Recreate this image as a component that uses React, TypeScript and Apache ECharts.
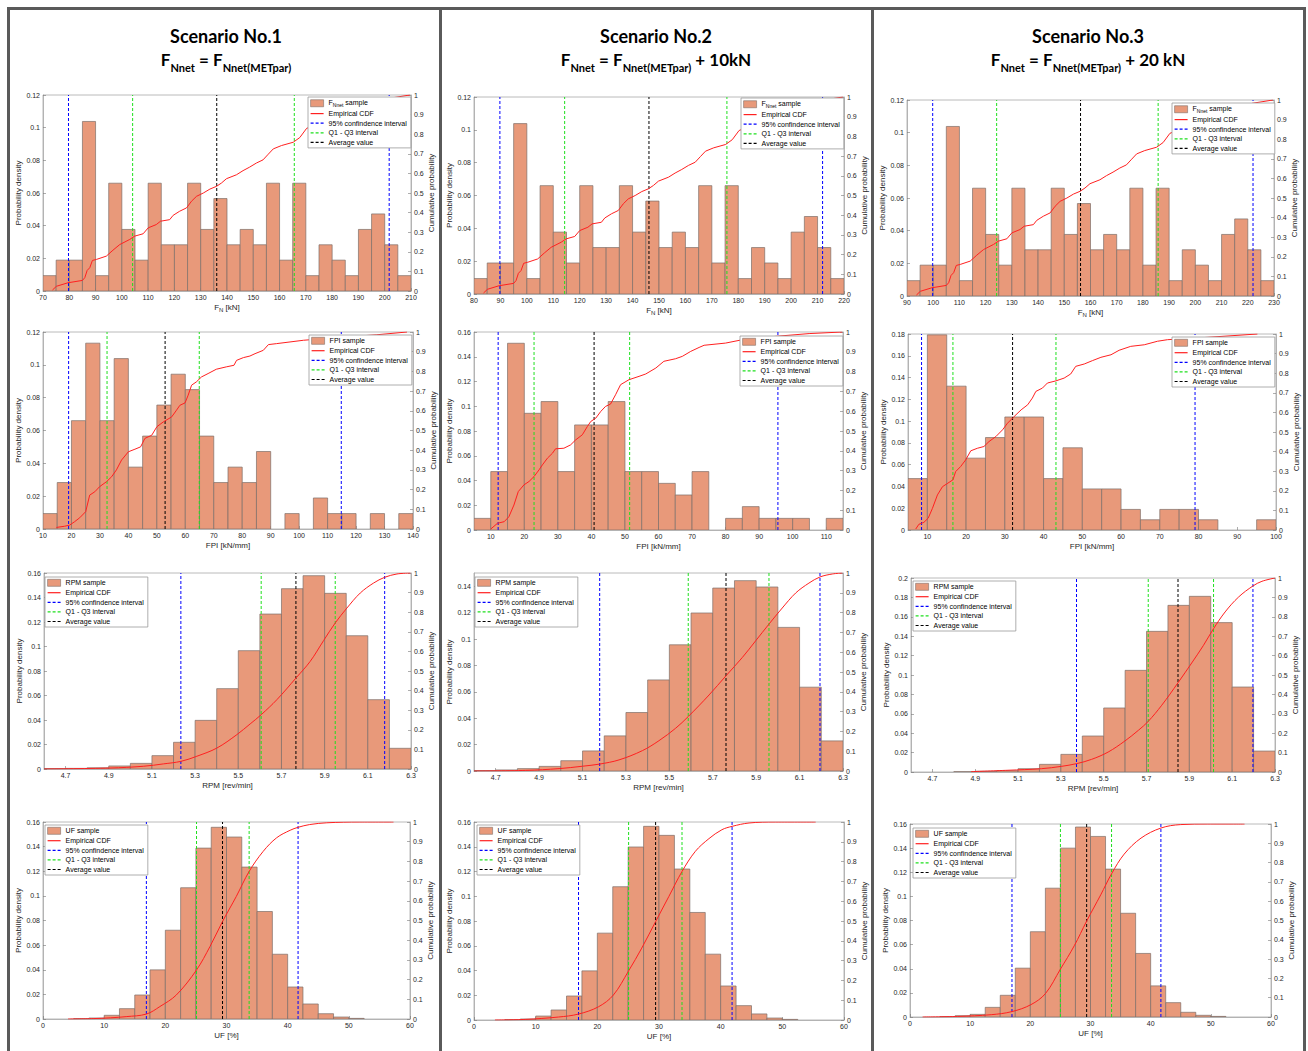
import React, { useEffect, useRef } from "react";
import * as echarts from "echarts";

// ---------------- DATA ----------------
// Row 1: F_N histograms (probability per bin), CDF, interval lines
const fnEdges1 = [70, 75, 80, 85, 90, 95, 100, 105, 110, 115, 120, 125, 130, 135, 140, 145, 150, 155, 160, 165, 170, 175, 180, 185, 190, 195, 200, 205, 210];
const fnEdges2 = [80, 85, 90, 95, 100, 105, 110, 115, 120, 125, 130, 135, 140, 145, 150, 155, 160, 165, 170, 175, 180, 185, 190, 195, 200, 205, 210, 215, 220];
const fnEdges3 = [90, 95, 100, 105, 110, 115, 120, 125, 130, 135, 140, 145, 150, 155, 160, 165, 170, 175, 180, 185, 190, 195, 200, 205, 210, 215, 220, 225, 230];
const fnDensity1 = [0.0094, 0.0189, 0.0189, 0.1038, 0.0094, 0.066, 0.0377, 0.0189, 0.066, 0.0283, 0.0283, 0.066, 0.0377, 0.0566, 0.0283, 0.0377, 0.0283, 0.066, 0.0189, 0.066, 0.0094, 0.0283, 0.0189, 0.0094, 0.0377, 0.0472, 0.0283, 0.0094];
const fnDensity2 = [0.0094, 0.0189, 0.0189, 0.1038, 0.0094, 0.066, 0.0377, 0.0189, 0.066, 0.0283, 0.0283, 0.066, 0.0377, 0.0566, 0.0283, 0.0377, 0.0283, 0.066, 0.0189, 0.066, 0.0094, 0.0283, 0.0189, 0.0094, 0.0377, 0.0472, 0.0283, 0.0094];
const fnDensity3 = [0.0094, 0.0189, 0.0189, 0.1038, 0.0094, 0.066, 0.0377, 0.0189, 0.066, 0.0283, 0.0283, 0.066, 0.0377, 0.0566, 0.0283, 0.0377, 0.0283, 0.066, 0.0189, 0.066, 0.0094, 0.0283, 0.0189, 0.0094, 0.0377, 0.0472, 0.0283, 0.0094];
const fnCdf1 = [[73.6, 0.005], [75.1, 0.024], [79.5, 0.042], [85, 0.054], [85.9, 0.068], [86.8, 0.105], [87.8, 0.119], [88.8, 0.156], [90.3, 0.161], [94.1, 0.178], [96.6, 0.208], [99.2, 0.237], [103, 0.263], [104.9, 0.28], [108.1, 0.292], [110, 0.322], [113.1, 0.339], [114.7, 0.356], [118.2, 0.364], [119.5, 0.386], [122, 0.407], [124.6, 0.424], [126.5, 0.458], [128.4, 0.483], [131, 0.5], [133.5, 0.52], [136, 0.534], [137.9, 0.551], [139.8, 0.573], [143.6, 0.593], [146.1, 0.614], [148.6, 0.632], [151.2, 0.653], [153.7, 0.669], [155.7, 0.698], [157.6, 0.725], [160.7, 0.742], [165.2, 0.759], [167.7, 0.783], [170.3, 0.83], [180, 0.88], [190, 0.93], [201.6, 0.983], [209.6, 1]];
const fnCdf2 = [[83.6, 0.005], [85.1, 0.024], [89.5, 0.042], [95, 0.054], [95.9, 0.068], [96.8, 0.105], [97.8, 0.119], [98.8, 0.156], [100.3, 0.161], [104.1, 0.178], [106.6, 0.208], [109.2, 0.237], [113, 0.263], [114.9, 0.28], [118.1, 0.292], [120, 0.322], [123.1, 0.339], [124.7, 0.356], [128.2, 0.364], [129.5, 0.386], [132, 0.407], [134.6, 0.424], [136.5, 0.458], [138.4, 0.483], [141, 0.5], [143.5, 0.52], [146, 0.534], [147.9, 0.551], [149.8, 0.573], [153.6, 0.593], [156.1, 0.614], [158.6, 0.632], [161.2, 0.653], [163.7, 0.669], [165.7, 0.698], [167.6, 0.725], [170.7, 0.742], [175.2, 0.759], [177.7, 0.783], [180.3, 0.83], [190, 0.88], [200, 0.93], [211.6, 0.983], [219.6, 1]];
const fnCdf3 = [[93.6, 0.005], [95.1, 0.024], [99.5, 0.042], [105, 0.054], [105.9, 0.068], [106.8, 0.105], [107.8, 0.119], [108.8, 0.156], [110.3, 0.161], [114.1, 0.178], [116.6, 0.208], [119.2, 0.237], [123, 0.263], [124.9, 0.28], [128.1, 0.292], [130, 0.322], [133.1, 0.339], [134.7, 0.356], [138.2, 0.364], [139.5, 0.386], [142, 0.407], [144.6, 0.424], [146.5, 0.458], [148.4, 0.483], [151, 0.5], [153.5, 0.52], [156, 0.534], [157.9, 0.551], [159.8, 0.573], [163.6, 0.593], [166.1, 0.614], [168.6, 0.632], [171.2, 0.653], [173.7, 0.669], [175.7, 0.698], [177.6, 0.725], [180.7, 0.742], [185.2, 0.759], [187.7, 0.783], [190.3, 0.83], [200, 0.88], [210, 0.93], [221.6, 0.983], [229.6, 1]];
const fnCI1 = [79.7, 201.7];
const fnIqr1 = [104.1, 165.6];
const fnMean1 = [136.1];
const fnCI2 = [89.8, 211.9];
const fnIqr2 = [114.3, 175.7];
const fnMean2 = [146.2];
const fnCI3 = [99.8, 222.0];
const fnIqr3 = [124.2, 185.8];
const fnMean3 = [156.2];

// Row 2: FPI
const fpiEdges1 = [10, 15, 20, 25, 30, 35, 40, 45, 50, 55, 60, 65, 70, 75, 80, 85, 90, 95, 100, 105, 110, 115, 120, 125, 130, 135, 140];
const fpiDensity1 = [0.0094, 0.0283, 0.066, 0.1132, 0.066, 0.1038, 0.0377, 0.0566, 0.0755, 0.0943, 0.0849, 0.0566, 0.0283, 0.0377, 0.0283, 0.0472, 0, 0.0094, 0, 0.0189, 0.0094, 0.0094, 0, 0.0094, 0, 0.0094];
const fpiEdges2 = [5, 10, 15, 20, 25, 30, 35, 40, 45, 50, 55, 60, 65, 70, 75, 80, 85, 90, 95, 100, 105, 110, 115];
const fpiDensity2 = [0.0094, 0.0472, 0.1509, 0.0943, 0.1038, 0.0472, 0.0849, 0.0849, 0.1038, 0.0472, 0.0472, 0.0377, 0.0283, 0.0472, 0, 0.0094, 0.0189, 0.0094, 0.0094, 0.0094, 0, 0.0094];
const fpiEdges3 = [5, 10, 15, 20, 25, 30, 35, 40, 45, 50, 55, 60, 65, 70, 75, 80, 85, 90, 95, 100];
const fpiDensity3 = [0.0472, 0.1792, 0.1321, 0.066, 0.0849, 0.1038, 0.1038, 0.0472, 0.0755, 0.0377, 0.0377, 0.0189, 0.0094, 0.0189, 0.0189, 0.0094, 0, 0, 0.0094];
const fpiCdf1 = [[14.7, 0.008], [17.6, 0.014], [19.4, 0.02], [21.1, 0.037], [22.9, 0.057], [25, 0.088], [26.4, 0.172], [28.2, 0.189], [29.9, 0.215], [32.3, 0.24], [34.1, 0.265], [35.8, 0.3], [37.6, 0.35], [40, 0.392], [42.3, 0.405], [44.3, 0.417], [45.8, 0.46], [48.2, 0.476], [50, 0.519], [52.3, 0.544], [55.2, 0.569], [56.9, 0.603], [58.1, 0.628], [59.9, 0.64], [61, 0.679], [62.2, 0.73], [63.9, 0.747], [65.7, 0.772], [68, 0.789], [70.9, 0.811], [74.4, 0.823], [77.1, 0.831], [78, 0.856], [80.4, 0.87], [82.7, 0.878], [84.5, 0.89], [87.4, 0.907], [89.2, 0.936], [92.1, 0.941], [101.5, 0.958], [114.4, 0.973], [127.3, 0.986], [137.9, 1]];
const fpiCdf2 = [[10, 0.005], [12, 0.034], [14, 0.042], [15.4, 0.067], [16.9, 0.126], [18.2, 0.194], [19.9, 0.228], [21.4, 0.245], [22.9, 0.27], [24.4, 0.304], [25.4, 0.329], [26.9, 0.363], [28.4, 0.388], [29.3, 0.41], [31.8, 0.413], [33.8, 0.43], [35.3, 0.455], [37.3, 0.481], [38.8, 0.523], [39.8, 0.548], [41.3, 0.565], [42.8, 0.599], [44.2, 0.624], [45.7, 0.636], [47.2, 0.683], [48.7, 0.734], [51.2, 0.759], [54.2, 0.776], [56.2, 0.788], [59.2, 0.818], [61.6, 0.852], [65.1, 0.865], [67.1, 0.877], [69.6, 0.902], [72.1, 0.922], [73.6, 0.933], [80, 0.944], [85, 0.961], [94.9, 0.978], [104.9, 0.992], [114.8, 1]];
const fpiCdf3 = [[7, 0.005], [7.8, 0.029], [9.1, 0.039], [10.2, 0.06], [11.3, 0.11], [12.6, 0.179], [13.9, 0.221], [15.3, 0.239], [16.6, 0.256], [17.3, 0.298], [18.6, 0.324], [19.9, 0.358], [21.2, 0.404], [22.9, 0.417], [24.6, 0.426], [25.9, 0.451], [27.7, 0.477], [29.4, 0.511], [30.7, 0.545], [32.4, 0.579], [34.2, 0.613], [35.9, 0.639], [37.1, 0.673], [38, 0.707], [39.7, 0.724], [41, 0.75], [43.2, 0.761], [45.3, 0.775], [47, 0.796], [48.3, 0.835], [50.5, 0.847], [52.6, 0.864], [54.8, 0.881], [57.4, 0.894], [59.5, 0.917], [62.5, 0.937], [66, 0.945], [69.4, 0.963], [72, 0.971], [82.3, 0.983], [95.2, 1]];
const fpiCI1 = [19.0, 114.8];
const fpiIqr1 = [32.5, 64.9];
const fpiMean1 = [52.9];
const fpiCI2 = [12.2, 95.6];
const fpiIqr2 = [22.9, 51.4];
const fpiMean2 = [40.8];
const fpiCI3 = [8.5, 79.1];
const fpiIqr3 = [16.6, 43.2];
const fpiMean3 = [32.0];

// Row 3: RPM
const rpmEdges = [4.6, 4.7, 4.8, 4.9, 5.0, 5.1, 5.2, 5.3, 5.4, 5.5, 5.6, 5.7, 5.8, 5.9, 6.0, 6.1, 6.2, 6.3];
const rpmDensity1 = [0.0003, 0.0005, 0.001, 0.0025, 0.0046, 0.0109, 0.0218, 0.0397, 0.0656, 0.0966, 0.1265, 0.1472, 0.1578, 0.1434, 0.1088, 0.0566, 0.0169];
const rpmDensity2 = [0.0003, 0.0008, 0.0018, 0.0035, 0.0078, 0.0152, 0.0266, 0.0443, 0.069, 0.0956, 0.1197, 0.1386, 0.1442, 0.1394, 0.1088, 0.0635, 0.0228];
const rpmDensity3 = [0, 0, 0.0003, 0.0007, 0.0014, 0.0034, 0.0079, 0.0182, 0.0371, 0.066, 0.1048, 0.145, 0.1718, 0.1811, 0.154, 0.0876, 0.0216];
const rpmCdf1 = [[4.6, 0], [4.906, 0.005], [5.061, 0.014], [5.153, 0.026], [5.234, 0.039], [5.308, 0.065], [5.401, 0.107], [5.493, 0.175], [5.555, 0.23], [5.606, 0.277], [5.679, 0.354], [5.767, 0.464], [5.833, 0.549], [5.895, 0.655], [5.949, 0.745], [6.003, 0.821], [6.065, 0.898], [6.127, 0.949], [6.178, 0.978], [6.235, 0.995], [6.297, 1]];
const rpmCdf2 = [[4.6, 0], [4.838, 0.003], [4.992, 0.012], [5.099, 0.024], [5.179, 0.035], [5.268, 0.056], [5.376, 0.103], [5.452, 0.153], [5.529, 0.216], [5.587, 0.275], [5.683, 0.384], [5.761, 0.481], [5.836, 0.573], [5.898, 0.658], [5.959, 0.742], [6.02, 0.823], [6.082, 0.899], [6.143, 0.949], [6.194, 0.98], [6.251, 0.995], [6.297, 1]];
const rpmCdf3 = [[4.881, 0.002], [5.053, 0.009], [5.209, 0.017], [5.302, 0.029], [5.373, 0.043], [5.443, 0.065], [5.521, 0.103], [5.599, 0.16], [5.662, 0.215], [5.708, 0.261], [5.771, 0.344], [5.847, 0.46], [5.911, 0.562], [5.966, 0.653], [6.013, 0.739], [6.067, 0.825], [6.13, 0.902], [6.197, 0.959], [6.239, 0.983], [6.3, 1]];
const rpmCI1 = [5.234, 6.178];
const rpmIqr1 = [5.606, 5.949];
const rpmMean1 = [5.767];
const rpmCI2 = [5.179, 6.194];
const rpmIqr2 = [5.587, 5.959];
const rpmMean2 = [5.761];
const rpmCI3 = [5.373, 6.197];
const rpmIqr3 = [5.708, 6.013];
const rpmMean3 = [5.847];
const rpmTickLabels = [4.7, 4.9, 5.1, 5.3, 5.5, 5.7, 5.9, 6.1, 6.3];

// Row 4: UF
const ufEdges = [5, 7.5, 10, 12.5, 15, 17.5, 20, 22.5, 25, 27.5, 30, 32.5, 35, 37.5, 40, 42.5, 45, 47.5, 50, 52.5];
const ufDensity1 = [0.0002, 0.0008, 0.003, 0.0084, 0.0195, 0.0399, 0.0721, 0.1066, 0.1388, 0.1557, 0.1478, 0.1234, 0.0873, 0.0526, 0.026, 0.0122, 0.0043, 0.0016, 0.0005];
const ufDensity2 = [0.0002, 0.0008, 0.0032, 0.0081, 0.0194, 0.0397, 0.0702, 0.1077, 0.1398, 0.1565, 0.1492, 0.122, 0.0869, 0.0532, 0.0275, 0.0116, 0.0049, 0.0016, 0.0005];
const ufDensity3 = [0.0002, 0.0011, 0.0022, 0.008, 0.018, 0.0405, 0.0707, 0.1068, 0.14, 0.1575, 0.1497, 0.1226, 0.086, 0.0527, 0.0258, 0.0119, 0.0039, 0.0014, 0.0005];
const ufCdf1 = [[4.1, 0], [8.2, 0.002], [11, 0.006], [13.6, 0.012], [16.9, 0.025], [19.1, 0.063], [21.8, 0.122], [25.1, 0.249], [27.3, 0.368], [29.35, 0.495], [31.6, 0.622], [33.7, 0.749], [36, 0.851], [38.2, 0.92], [40.4, 0.958], [41.7, 0.973], [43.6, 0.987], [46.4, 0.996], [51.8, 1], [57.3, 1]];
const ufCdf2 = [[3.4, 0], [8.3, 0.003], [13.7, 0.015], [16.95, 0.03], [20.2, 0.067], [22.6, 0.126], [25.07, 0.248], [27.2, 0.363], [29.45, 0.497], [31.6, 0.624], [33.73, 0.75], [35.9, 0.852], [38.1, 0.916], [40.2, 0.961], [41.85, 0.978], [44.6, 0.995], [48.9, 1], [55.4, 1]];
const ufCdf3 = [[2.1, 0], [7.9, 0.003], [13.5, 0.012], [16.95, 0.028], [20.1, 0.064], [22.5, 0.121], [25, 0.248], [27.3, 0.369], [29.36, 0.497], [31.7, 0.633], [33.5, 0.742], [35.6, 0.844], [38.4, 0.927], [41.7, 0.979], [45, 0.997], [49.5, 1], [55.6, 1]];
const ufCI1 = [16.9, 41.7];
const ufIqr1 = [25.1, 33.7];
const ufMean1 = [29.35];
const ufCI2 = [16.95, 41.85];
const ufIqr2 = [25.07, 33.73];
const ufMean2 = [29.45];
const ufCI3 = [16.95, 41.7];
const ufIqr3 = [25.0, 33.5];
const ufMean3 = [29.36];

const fpiTicks2 = [10, 20, 30, 40, 50, 60, 70, 80, 90, 100, 110];
const fpiTicks3 = [10, 20, 30, 40, 50, 60, 70, 80, 90, 100];

const scenarioTitles = ["Scenario No.1", "Scenario No.2", "Scenario No.3"];
const scenarioFormulas = [
  "{m|F}{s|Nnet}{m| = F}{s|Nnet(METpar)}",
  "{m|F}{s|Nnet}{m| = F}{s|Nnet(METpar)}{m| + 10kN}",
  "{m|F}{s|Nnet}{m| = F}{s|Nnet(METpar)}{m| + 20 kN}",
];

const CDF_NAME = "Empirical CDF";
const CI_NAME = "95% confindence interval";
const IQR_NAME = "Q1 - Q3 interval";
const AVG_NAME = "Average value";

// ---------------- STYLE / LAYOUT ----------------
const BAR = "#e8997a";
const EDGE = "#7d6f68";
const RED = "#ff2020";
const BLUE = "#0000ff";
const GREEN = "#1ee01e";
const BLACK = "#000000";
const AX = "#a8a8a8";
const LBL = "#262626";
const FONT = "'Liberation Sans', Arial, sans-serif";
const TFONT = "Lato, 'Open Sans', sans-serif";

type Panel = {
  sample: string;
  xName: string;
  edges: number[];
  dens: number[];
  cdf: number[][];
  ci: number[];
  iqr: number[];
  mean: number[];
  xMin: number;
  xMax: number;
  xInterval?: number;
  xLabels?: number[];
  xDecimals?: number;
  yMax: number;
  smooth?: boolean;
};

const panels: Panel[] = [
  { sample: "F_Nnet sample", xName: "{m|F}{s|N}{m| [kN]}", edges: fnEdges1, dens: fnDensity1, cdf: fnCdf1, ci: fnCI1, iqr: fnIqr1, mean: fnMean1, xMin: 70, xMax: 210, xInterval: 10, yMax: 0.12 },
  { sample: "F_Nnet sample", xName: "{m|F}{s|N}{m| [kN]}", edges: fnEdges2, dens: fnDensity2, cdf: fnCdf2, ci: fnCI2, iqr: fnIqr2, mean: fnMean2, xMin: 80, xMax: 220, xInterval: 10, yMax: 0.12 },
  { sample: "F_Nnet sample", xName: "{m|F}{s|N}{m| [kN]}", edges: fnEdges3, dens: fnDensity3, cdf: fnCdf3, ci: fnCI3, iqr: fnIqr3, mean: fnMean3, xMin: 90, xMax: 230, xInterval: 10, yMax: 0.12 },
  { sample: "FPI sample", xName: "{m|FPI [kN/mm]}", edges: fpiEdges1, dens: fpiDensity1, cdf: fpiCdf1, ci: fpiCI1, iqr: fpiIqr1, mean: fpiMean1, xMin: 10, xMax: 140, xInterval: 10, yMax: 0.12 },
  { sample: "FPI sample", xName: "{m|FPI [kN/mm]}", edges: fpiEdges2, dens: fpiDensity2, cdf: fpiCdf2, ci: fpiCI2, iqr: fpiIqr2, mean: fpiMean2, xMin: 5, xMax: 115, xLabels: fpiTicks2, yMax: 0.16 },
  { sample: "FPI sample", xName: "{m|FPI [kN/mm]}", edges: fpiEdges3, dens: fpiDensity3, cdf: fpiCdf3, ci: fpiCI3, iqr: fpiIqr3, mean: fpiMean3, xMin: 5, xMax: 100, xLabels: fpiTicks3, yMax: 0.18 },
  { sample: "RPM sample", xName: "{m|RPM [rev/min]}", edges: rpmEdges, dens: rpmDensity1, cdf: rpmCdf1, ci: rpmCI1, iqr: rpmIqr1, mean: rpmMean1, xMin: 4.6, xMax: 6.3, xLabels: rpmTickLabels, xDecimals: 1, yMax: 0.16, smooth: true },
  { sample: "RPM sample", xName: "{m|RPM [rev/min]}", edges: rpmEdges, dens: rpmDensity2, cdf: rpmCdf2, ci: rpmCI2, iqr: rpmIqr2, mean: rpmMean2, xMin: 4.6, xMax: 6.3, xLabels: rpmTickLabels, xDecimals: 1, yMax: 0.15, smooth: true },
  { sample: "RPM sample", xName: "{m|RPM [rev/min]}", edges: rpmEdges, dens: rpmDensity3, cdf: rpmCdf3, ci: rpmCI3, iqr: rpmIqr3, mean: rpmMean3, xMin: 4.6, xMax: 6.3, xLabels: rpmTickLabels, xDecimals: 1, yMax: 0.2, smooth: true },
  { sample: "UF sample", xName: "{m|UF [%]}", edges: ufEdges, dens: ufDensity1, cdf: ufCdf1, ci: ufCI1, iqr: ufIqr1, mean: ufMean1, xMin: 0, xMax: 60, xInterval: 10, yMax: 0.16, smooth: true },
  { sample: "UF sample", xName: "{m|UF [%]}", edges: ufEdges, dens: ufDensity2, cdf: ufCdf2, ci: ufCI2, iqr: ufIqr2, mean: ufMean2, xMin: 0, xMax: 60, xInterval: 10, yMax: 0.16, smooth: true },
  { sample: "UF sample", xName: "{m|UF [%]}", edges: ufEdges, dens: ufDensity3, cdf: ufCdf3, ci: ufCI3, iqr: ufIqr3, mean: ufMean3, xMin: 0, xMax: 60, xInterval: 10, yMax: 0.16, smooth: true },
];

// [left, top, width, height], legend [left, top]
const gridBoxes = [
  [43, 95, 368, 196], [474, 97, 370, 197], [907, 100, 367, 196],
  [43, 332, 370, 197], [474, 332, 369, 198], [908, 334, 368, 196],
  [44, 573, 367, 196], [474, 573, 369, 198], [911, 578, 364, 194],
  [43, 822, 367, 197], [474, 822, 370, 198], [910, 824, 361, 193],
];
const legendPos = [
  [308, 97], [741, 98], [1172, 103],
  [309, 335], [740, 336], [1172, 337],
  [45, 577], [475, 577], [913, 581],
  [45, 825], [477, 825], [913, 828],
];
const colCenters = [226, 656, 1088];

function buildOption() {
  const grids: any[] = [];
  const xAxes: any[] = [];
  const yAxes: any[] = [];
  const series: any[] = [];
  const legends: any[] = [];

  const nameRich = {
    m: { fontSize: 8, fontFamily: FONT, color: LBL, verticalAlign: "bottom", padding: [0, 0, 2, 0] },
    s: { fontSize: 6, fontFamily: FONT, color: LBL, verticalAlign: "bottom" },
  };
  const noSymbol = { color: "rgba(0,0,0,0)", borderWidth: 0, opacity: 0 };

  panels.forEach((p, i) => {
    const g = gridBoxes[i];
    grids.push({ left: g[0], top: g[1], width: g[2], height: g[3], show: true, borderColor: AX, borderWidth: 0.8, backgroundColor: "transparent" });

    const fmt = (v: number) => (p.xDecimals ? v.toFixed(p.xDecimals) : String(Math.round(v * 1000) / 1000));
    const xa: any = {
      type: "value",
      gridIndex: i,
      min: p.xMin,
      max: p.xMax,
      name: p.xName,
      nameLocation: "middle",
      nameGap: 12,
      nameTextStyle: { fontSize: 8, color: LBL, fontFamily: FONT, rich: nameRich },
      axisLine: { show: true, onZero: false, lineStyle: { color: AX, width: 0.8 } },
      axisTick: { show: true, inside: true, length: 3, lineStyle: { color: "#777", width: 0.6 } },
      axisLabel: { fontSize: 7, color: LBL, fontFamily: FONT, margin: 3, formatter: fmt, showMinLabel: true, showMaxLabel: true },
      splitLine: { show: false },
    };
    if (p.xInterval) xa.interval = p.xInterval;
    if (p.xLabels) {
      xa.axisLabel.customValues = p.xLabels;
      xa.axisTick.customValues = p.xLabels;
    }
    xAxes.push(xa);

    yAxes.push({
      type: "value",
      gridIndex: i,
      position: "left",
      min: 0,
      max: p.yMax,
      interval: 0.02,
      name: "Probability density",
      nameLocation: "middle",
      nameRotate: 90,
      nameGap: 18,
      nameTextStyle: { fontSize: 8, color: LBL, fontFamily: FONT },
      axisLine: { show: true, lineStyle: { color: AX, width: 0.8 } },
      axisTick: { show: true, inside: true, length: 3, lineStyle: { color: "#777", width: 0.6 } },
      axisLabel: { fontSize: 7, color: LBL, fontFamily: FONT, margin: 3, showMaxLabel: Math.abs((p.yMax / 0.02) - Math.round(p.yMax / 0.02)) < 1e-6 },
      splitLine: { show: false },
    });
    yAxes.push({
      type: "value",
      gridIndex: i,
      position: "right",
      min: 0,
      max: 1,
      interval: 0.1,
      name: "Cumulative probability",
      nameLocation: "middle",
      nameRotate: 90,
      nameGap: 14,
      nameTextStyle: { fontSize: 8, color: LBL, fontFamily: FONT },
      axisLine: { show: true, lineStyle: { color: AX, width: 0.8 } },
      axisTick: { show: true, inside: true, length: 3, lineStyle: { color: "#777", width: 0.6 } },
      axisLabel: { fontSize: 7, color: LBL, fontFamily: FONT, margin: 3 },
      splitLine: { show: false },
    });

    const histData = p.dens.map((d, k) => [p.edges[k], p.edges[k + 1], d]);
    series.push({
      type: "custom",
      name: p.sample,
      xAxisIndex: i,
      yAxisIndex: 2 * i,
      data: histData,
      encode: { x: [0, 1], y: 2 },
      itemStyle: { color: BAR },
      clip: true,
      z: 2,
      renderItem: (_params: any, api: any) => {
        const x0 = api.value(0);
        const x1 = api.value(1);
        const h = api.value(2);
        if (!h) return { type: "group", children: [] };
        const a = api.coord([x0, h]);
        const b = api.coord([x1, 0]);
        return {
          type: "rect",
          shape: { x: a[0], y: a[1], width: b[0] - a[0], height: b[1] - a[1] },
          style: { fill: BAR, stroke: EDGE, lineWidth: 0.7 },
        };
      },
    });

    series.push({
      type: "line",
      name: CDF_NAME,
      xAxisIndex: i,
      yAxisIndex: 2 * i + 1,
      data: p.cdf,
      symbol: "none",
      smooth: p.smooth ? 0.35 : false,
      lineStyle: { color: RED, width: 1 },
      itemStyle: { color: RED },
      z: 4,
    });

    const vline = (name: string, color: string, v: number) => ({
      type: "line",
      name,
      xAxisIndex: i,
      yAxisIndex: 2 * i,
      data: [[v, 0], [v, p.yMax]],
      symbol: "none",
      lineStyle: { color, width: 1, type: [3, 2] },
      itemStyle: { color },
      z: 3,
    });
    p.ci.forEach((v) => series.push(vline(CI_NAME, BLUE, v)));
    p.iqr.forEach((v) => series.push(vline(IQR_NAME, GREEN, v)));
    p.mean.forEach((v) => series.push(vline(AVG_NAME, BLACK, v)));

    const lp = legendPos[i];
    legends.push({
      show: true,
      orient: "vertical",
      left: lp[0],
      top: lp[1],
      backgroundColor: "#ffffff",
      borderColor: "#9a9a9a",
      borderWidth: 0.8,
      borderRadius: 0,
      padding: [2, 4, 2, 2],
      itemGap: 2.6,
      itemWidth: 13,
      itemHeight: 7,
      selectedMode: false,
      textStyle: {
        fontSize: 7,
        color: "#000",
        fontFamily: FONT,
        rich: {
          m: { fontSize: 7, fontFamily: FONT, color: "#000", verticalAlign: "bottom", padding: [0, 0, 1.5, 0] },
          s: { fontSize: 5, fontFamily: FONT, color: "#000", verticalAlign: "bottom" },
        },
      },
      formatter: (name: string) => (name === "F_Nnet sample" ? "{m|F}{s|Nnet}{m| sample}" : name),
      data: [
        { name: p.sample, icon: "rect", itemStyle: { color: BAR, borderColor: EDGE, borderWidth: 0.6 } },
        { name: CDF_NAME, itemStyle: noSymbol, lineStyle: { color: RED, width: 1.2 } },
        { name: CI_NAME, itemStyle: noSymbol, lineStyle: { color: BLUE, width: 1.2, type: [3, 2] } },
        { name: IQR_NAME, itemStyle: noSymbol, lineStyle: { color: GREEN, width: 1.2, type: [3, 2] } },
        { name: AVG_NAME, itemStyle: noSymbol, lineStyle: { color: BLACK, width: 1.2, type: [3, 2] } },
      ],
      z: 6,
    });
  });

  const frameColor = "#5a5a5a";
  const graphic: any[] = [
    { type: "rect", shape: { x: 7, y: 7, width: 1299, height: 3 }, style: { fill: frameColor }, silent: true },
    { type: "rect", shape: { x: 7, y: 7, width: 3, height: 1044 }, style: { fill: frameColor }, silent: true },
    { type: "rect", shape: { x: 439, y: 7, width: 3, height: 1044 }, style: { fill: frameColor }, silent: true },
    { type: "rect", shape: { x: 871, y: 7, width: 3, height: 1044 }, style: { fill: frameColor }, silent: true },
    { type: "rect", shape: { x: 1303, y: 7, width: 3, height: 1044 }, style: { fill: frameColor }, silent: true },
  ];
  scenarioTitles.forEach((t, c) => {
    graphic.push({
      type: "text",
      x: colCenters[c],
      y: 36,
      silent: true,
      style: { text: t, fontSize: 18, fontWeight: "bold", fontFamily: TFONT, fill: "#000", textAlign: "center", textVerticalAlign: "middle" },
    });
    graphic.push({
      type: "text",
      x: colCenters[c],
      y: 62,
      silent: true,
      style: {
        text: scenarioFormulas[c],
        textAlign: "center",
        textVerticalAlign: "middle",
        fill: "#000",
        rich: {
          m: { fontSize: 17, fontWeight: "bold", fontFamily: TFONT, fill: "#000", verticalAlign: "bottom", padding: [0, 0, 5, 0] },
          s: { fontSize: 11, fontWeight: "bold", fontFamily: TFONT, fill: "#000", verticalAlign: "bottom" },
        },
      },
    });
  });

  return {
    animation: false,
    backgroundColor: "#ffffff",
    grid: grids,
    xAxis: xAxes,
    yAxis: yAxes,
    legend: legends,
    series,
    graphic,
  };
}

export default function App() {
  const ref = useRef<HTMLDivElement>(null);
  useEffect(() => {
    if (!ref.current) return;
    const chart = echarts.init(ref.current, null, { renderer: "svg" });
    chart.setOption(buildOption() as any);
    return () => chart.dispose();
  }, []);
  return (
    <div
      ref={ref}
      style={{ position: "absolute", left: 0, top: 0, width: 1308, height: 1051, background: "#fff" }}
    />
  );
}
